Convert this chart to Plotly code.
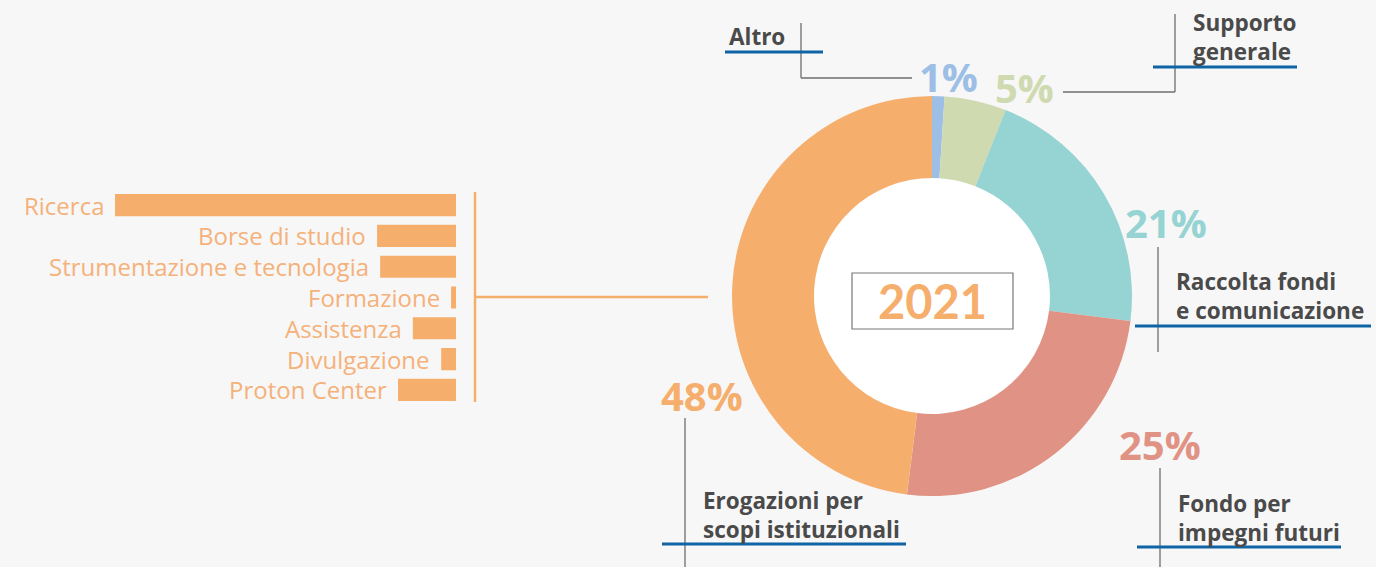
import plotly.graph_objects as go

W, H = 1376, 567

# ---- data ----
pie_labels = ["Altro", "Supporto generale", "Raccolta fondi e comunicazione",
              "Fondo per impegni futuri", "Erogazioni per scopi istituzionali"]
pie_values = [1, 5, 21, 25, 48]
pie_colors = ["#9dbfe6", "#cfdab1", "#96d3d3", "#e09385", "#f6ae6c"]

bar_categories = ["Ricerca", "Borse di studio", "Strumentazione e tecnologia",
                  "Formazione", "Assistenza", "Divulgazione", "Proton Center"]
bar_values = [55.3, 12.8, 12.3, 0.8, 7.0, 2.4, 9.4]

year_label = "2021"

BG = "#f7f7f7"
ORANGE = "#f6ae6c"
DARK = "#4a4a4a"
BLUE = "#0f64a6"
GRAY = "#6e6e6e"


def px(x):
    return x / W


def py(y):
    return 1 - y / H


fig = go.Figure()

# ---- bar chart ----
fig.add_trace(go.Bar(
    x=bar_values, y=bar_categories, orientation="h",
    marker=dict(color=ORANGE, line=dict(width=0)),
    width=0.72, hoverinfo="x+y", showlegend=False,
))

# ---- donut ----
cx, cy, R = 932, 296, 200
hole = 0.59
fig.add_trace(go.Pie(
    labels=pie_labels, values=pie_values, sort=False, direction="clockwise",
    rotation=0, hole=hole, textinfo="none",
    marker=dict(colors=pie_colors, line=dict(width=0)),
    domain=dict(x=[px(cx - R), px(cx + R)], y=[py(cy + R), py(cy - R)]),
    showlegend=False,
))

shapes = []
ri = R * hole + 1
shapes.append(dict(type="circle", xref="paper", yref="paper",
                   x0=px(cx - ri), x1=px(cx + ri), y0=py(cy + ri), y1=py(cy - ri),
                   fillcolor="white", line=dict(width=0), layer="below"))
# year box
shapes.append(dict(type="rect", xref="paper", yref="paper",
                   x0=px(852), x1=px(1013), y0=py(329), y1=py(273),
                   line=dict(color="#777777", width=1.2), fillcolor="rgba(0,0,0,0)"))

# orange bracket for bar group
shapes.append(dict(type="line", xref="paper", yref="paper",
                   x0=px(475), x1=px(475), y0=py(192), y1=py(402),
                   line=dict(color=ORANGE, width=2.5)))
shapes.append(dict(type="line", xref="paper", yref="paper",
                   x0=px(475), x1=px(708), y0=py(297), y1=py(297),
                   line=dict(color=ORANGE, width=2.5)))


def gline(x0, y0, x1, y1, color=GRAY, w=1.3):
    shapes.append(dict(type="line", xref="paper", yref="paper",
                       x0=px(x0), x1=px(x1), y0=py(y0), y1=py(y1),
                       line=dict(color=color, width=w)))


# connectors
gline(801, 23, 801, 78)
gline(801, 78, 912, 78)
gline(1175, 14, 1175, 92)
gline(1063, 92, 1175, 92)
gline(1158, 247, 1158, 352)
gline(1160, 468, 1160, 567)
gline(685, 418, 685, 567)
# blue underlines
gline(725, 52, 823, 52, BLUE, 3)
gline(1153, 67, 1297, 67, BLUE, 3)
gline(1135, 326, 1371, 326, BLUE, 3)
gline(1137, 547, 1341, 547, BLUE, 3)
gline(662, 544, 906, 544, BLUE, 3)

annotations = []

# bar labels
for cat, val in zip(bar_categories, bar_values):
    annotations.append(dict(x=val, y=cat, xref="x", yref="y", text=cat,
                            showarrow=False, xanchor="right", yanchor="middle",
                            xshift=-9,
                            font=dict(family="Open Sans", size=24, color="#f5b17a")))

# percentages
pct_pos = [(948, 76), (1024, 87), (1166, 222), (1160, 444), (702, 395)]
for v, c, (x, y) in zip(pie_values, pie_colors, pct_pos):
    annotations.append(dict(x=px(x), y=py(y), xref="paper", yref="paper",
                            text=f"{v}%", showarrow=False, xanchor="center", yanchor="middle",
                            font=dict(family="Open Sans", size=40, color=c, weight="bold")))

# category labels
cat_pos = [(727, 36, "Altro"), (1191, 37, "Supporto<br>generale"),
           (1174, 296, "Raccolta fondi<br>e comunicazione"),
           (1176, 518, "Fondo per<br>impegni futuri"),
           (701, 515, "Erogazioni per<br>scopi istituzionali")]
for x, y, t in cat_pos:
    annotations.append(dict(x=px(x), y=py(y), xref="paper", yref="paper",
                            text=t, showarrow=False, xanchor="left", yanchor="middle",
                            align="left",
                            font=dict(family="Open Sans", size=22.5, color=DARK, weight="bold")))

# year
annotations.append(dict(x=px(932), y=py(301), xref="paper", yref="paper",
                        text=year_label, showarrow=False, xanchor="center", yanchor="middle",
                        font=dict(family="Lato", size=47, color=ORANGE, weight="bold")))

bar_top, bar_bottom = 202.5 - 15.83, 392.5 + 15.83
fig.update_layout(
    width=W, height=H,
    margin=dict(l=0, r=0, t=0, b=0),
    paper_bgcolor=BG, plot_bgcolor=BG,
    xaxis=dict(domain=[0, px(456)], range=[55.3 * 456 / 341, 0],
               visible=False, fixedrange=True),
    yaxis=dict(domain=[py(bar_bottom), py(bar_top)], autorange="reversed",
               visible=False, fixedrange=True),
    shapes=shapes,
    annotations=annotations,
    bargap=0.28,
)

fig.write_html("out.html", config={"displayModeBar": False},
               post_script="document.body.style.margin='0px';document.body.style.overflow='hidden';")
